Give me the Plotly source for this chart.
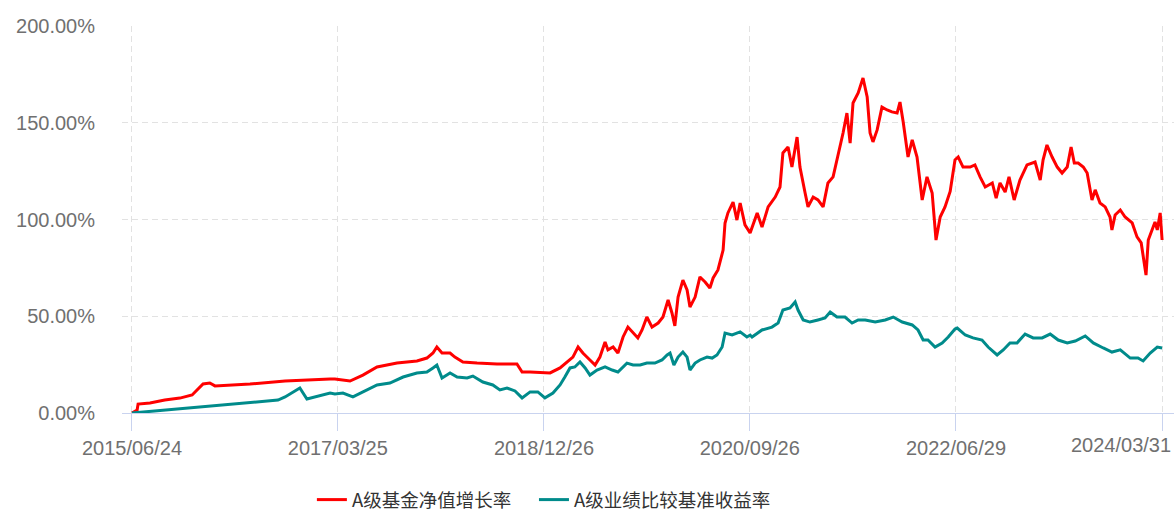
import plotly.graph_objects as go

# ---------------- data ----------------
nav_dates = [
    "2015-06-24", "2015-07-10", "2015-07-13", "2015-08-19", "2015-10-04", "2015-11-20",
    "2015-12-28", "2016-01-15", "2016-01-31", "2016-02-21", "2016-03-08", "2016-06-25",
    "2016-10-12", "2017-03-01", "2017-03-16", "2017-05-02", "2017-06-11", "2017-07-25",
    "2017-08-25", "2017-09-25", "2017-11-26", "2017-12-27", "2018-01-15", "2018-01-27",
    "2018-02-12", "2018-03-09", "2018-03-24", "2018-04-18", "2018-06-01", "2018-08-02",
    "2018-10-03", "2018-10-19", "2018-11-13", "2018-12-23", "2019-01-14", "2019-02-14",
    "2019-03-08", "2019-03-26", "2019-04-11", "2019-04-26", "2019-05-18", "2019-06-03",
    "2019-06-18", "2019-07-04", "2019-07-13", "2019-07-29", "2019-08-13", "2019-08-29",
    "2019-09-13", "2019-09-29", "2019-10-14", "2019-10-27", "2019-11-11", "2019-11-27",
    "2019-12-16", "2019-12-31", "2020-01-16", "2020-01-28", "2020-02-06", "2020-02-16",
    "2020-03-02", "2020-03-15", "2020-03-24", "2020-04-09", "2020-04-24", "2020-05-10",
    "2020-05-25", "2020-06-04", "2020-06-19", "2020-07-05", "2020-07-11", "2020-07-20",
    "2020-08-05", "2020-08-17", "2020-08-27", "2020-09-11", "2020-09-27", "2020-10-19",
    "2020-11-03", "2020-11-22", "2020-12-14", "2020-12-29", "2021-01-07", "2021-01-23",
    "2021-02-04", "2021-02-20", "2021-03-01", "2021-03-17", "2021-03-26", "2021-04-11",
    "2021-04-26", "2021-05-12", "2021-05-27", "2021-06-12", "2021-06-27", "2021-07-13",
    "2021-07-25", "2021-08-04", "2021-08-13", "2021-08-29", "2021-09-13", "2021-09-26",
    "2021-10-05", "2021-10-14", "2021-10-27", "2021-11-11", "2021-11-27", "2021-12-12",
    "2021-12-28", "2022-01-06", "2022-01-16", "2022-01-31", "2022-02-13", "2022-02-28",
    "2022-03-16", "2022-03-31", "2022-04-16", "2022-04-28", "2022-05-11", "2022-05-26",
    "2022-06-11", "2022-06-26", "2022-07-06", "2022-07-21", "2022-08-12", "2022-08-27",
    "2022-09-12", "2022-09-28", "2022-10-20", "2022-11-01", "2022-11-13", "2022-11-29",
    "2022-12-11", "2022-12-27", "2023-01-14", "2023-02-05", "2023-03-02", "2023-03-18",
    "2023-03-27", "2023-04-08", "2023-04-24", "2023-05-10", "2023-05-25", "2023-06-10",
    "2023-06-22", "2023-07-02", "2023-07-14", "2023-07-30", "2023-08-11", "2023-08-26",
    "2023-09-05", "2023-09-20", "2023-10-06", "2023-10-21", "2023-10-27", "2023-11-06",
    "2023-11-22", "2023-12-07", "2023-12-29", "2024-01-13", "2024-01-26", "2024-02-01",
    "2024-02-10", "2024-02-17", "2024-02-29", "2024-03-09", "2024-03-16", "2024-03-25",
    "2024-03-31",
]
nav_growth = [
    0.0, 1.5, 4.6, 5.2, 6.7, 7.7,
    9.3, 12.4, 15.0, 15.5, 14.0, 15.0,
    16.5, 17.6, 17.6, 16.5, 19.6, 23.8,
    24.8, 25.8, 26.9, 28.4, 31.0, 34.1,
    31.0, 31.0, 28.9, 26.4, 25.8, 25.3,
    25.3, 21.2, 21.2, 20.7, 20.7, 23.3,
    26.4, 28.9, 34.1, 31.0, 27.4, 24.8,
    28.9, 36.7, 32.6, 34.1, 31.0, 39.3,
    44.4, 41.3, 38.8, 42.9, 49.6, 44.4,
    46.5, 49.6, 58.4, 51.7, 45.0, 59.9,
    68.7, 63.6, 54.8, 59.9, 70.3, 67.7,
    64.6, 69.8, 73.9, 84.2, 98.2, 103.4,
    109.0, 99.7, 108.5, 97.2, 93.0, 103.4,
    96.1, 106.5, 111.6, 116.8, 134.4, 137.5,
    127.1, 142.6, 127.1, 113.7, 106.5, 111.6,
    110.1, 106.5, 118.9, 122.0, 132.3, 144.7,
    155.0, 139.5, 160.2, 165.4, 173.1, 163.3,
    144.7, 140.1, 146.3, 158.1, 156.6, 155.6,
    155.0, 160.7, 150.4, 132.3, 141.1, 132.3,
    110.1, 122.0, 113.7, 89.4, 101.3, 106.5,
    114.5, 130.8, 132.3, 127.1, 127.1, 128.2,
    122.0, 116.8, 118.9, 111.1, 118.9, 114.2,
    122.0, 110.1, 120.4, 128.2, 129.7, 120.4,
    130.8, 138.5, 132.3, 127.1, 124.0, 127.1,
    137.5, 129.2, 129.2, 127.1, 124.0, 110.1,
    115.3, 108.5, 106.5, 101.3, 94.6, 102.3,
    104.9, 101.3, 98.2, 91.0, 87.9, 80.6,
    71.3, 89.4, 94.6, 98.7, 94.6, 103.4,
    89.4,
]

bench_dates = [
    "2015-06-24", "2016-09-20", "2016-10-12", "2016-11-02", "2016-11-27", "2016-12-19",
    "2017-01-13", "2017-02-13", "2017-03-01", "2017-03-16", "2017-04-10", "2017-05-11",
    "2017-06-11", "2017-07-25", "2017-09-03", "2017-10-14", "2017-11-26", "2017-12-27",
    "2018-01-15", "2018-01-27", "2018-02-12", "2018-03-09", "2018-03-31", "2018-05-01",
    "2018-05-19", "2018-06-19", "2018-07-20", "2018-08-11", "2018-09-02", "2018-09-27",
    "2018-10-19", "2018-11-13", "2018-12-07", "2018-12-29", "2019-01-23", "2019-02-14",
    "2019-03-01", "2019-03-17", "2019-04-01", "2019-04-17", "2019-05-03", "2019-05-18",
    "2019-06-09", "2019-07-04", "2019-07-26", "2019-08-13", "2019-09-10", "2019-09-29",
    "2019-10-21", "2019-11-11", "2019-12-06", "2019-12-28", "2020-01-13", "2020-01-22",
    "2020-02-03", "2020-02-16", "2020-03-02", "2020-03-15", "2020-03-24", "2020-04-09",
    "2020-04-24", "2020-05-16", "2020-06-01", "2020-06-16", "2020-07-02", "2020-07-11",
    "2020-08-02", "2020-08-27", "2020-09-17", "2020-09-27", "2020-10-03", "2020-11-03",
    "2020-12-04", "2020-12-23", "2021-01-07", "2021-01-29", "2021-02-14", "2021-02-23",
    "2021-03-11", "2021-04-01", "2021-04-26", "2021-05-18", "2021-06-03", "2021-06-24",
    "2021-07-19", "2021-08-10", "2021-08-29", "2021-09-20", "2021-10-21", "2021-11-21",
    "2021-12-16", "2022-01-13", "2022-02-13", "2022-03-03", "2022-03-19", "2022-04-03",
    "2022-04-25", "2022-05-17", "2022-06-05", "2022-06-26", "2022-07-03", "2022-07-28",
    "2022-08-21", "2022-09-18", "2022-10-07", "2022-11-04", "2022-11-23", "2022-12-14",
    "2023-01-05", "2023-01-30", "2023-02-24", "2023-03-24", "2023-04-18", "2023-05-13",
    "2023-06-10", "2023-07-05", "2023-08-05", "2023-08-30", "2023-09-30", "2023-10-27",
    "2023-11-22", "2023-12-23", "2024-01-16", "2024-02-01", "2024-02-23", "2024-03-16",
    "2024-03-31",
]
bench_return = [
    0.0, 6.7, 8.3, 10.3, 12.9, 7.2,
    8.3, 9.3, 10.3, 9.8, 10.3, 8.3,
    10.9, 14.5, 15.5, 18.6, 20.7, 21.2,
    23.3, 24.8, 18.1, 20.7, 18.6, 18.1,
    19.1, 16.0, 14.5, 11.9, 12.9, 11.4,
    7.8, 10.9, 10.9, 7.8, 10.3, 14.5,
    18.6, 23.3, 23.8, 26.4, 23.3, 19.6,
    22.2, 23.8, 22.2, 21.2, 25.8, 24.8,
    24.8, 25.8, 25.8, 27.4, 30.0, 31.0,
    24.8, 28.9, 31.5, 28.9, 22.2, 25.8,
    27.4, 28.9, 28.4, 30.0, 34.1, 41.3,
    40.3, 41.9, 39.3, 40.3, 39.3, 42.9,
    44.4, 46.5, 53.2, 54.3, 57.4, 53.2,
    48.1, 47.0, 48.1, 49.1, 52.2, 49.6,
    49.6, 46.5, 48.1, 48.1, 47.0, 48.1,
    49.6, 47.0, 45.5, 42.9, 37.7, 37.7,
    34.1, 36.2, 39.3, 43.4, 43.9, 40.3,
    38.8, 37.7, 34.1, 30.0, 32.6, 36.2,
    36.2, 40.8, 38.8, 38.8, 40.8, 37.7,
    36.2, 37.2, 39.8, 36.2, 33.6, 31.5,
    32.6, 28.4, 28.4, 26.9, 31.0, 34.1,
    33.6,
]

x_tick_dates = ["2015-06-24", "2017-03-25", "2018-12-26", "2020-09-26", "2022-06-29", "2024-03-31"]
x_tick_labels = ["2015/06/24", "2017/03/25", "2018/12/26", "2020/09/26", "2022/06/29", "2024/03/31"]
y_tick_values = [0, 50, 100, 150, 200]

series_names = ["A级基金净值增长率", "A级业绩比较基准收益率"]

# ---------------- styling ----------------
RED = "#ff0000"
TEAL = "#008b8b"
GRID = "#e2e2e2"
AXIS = "#c9d3ef"
LABEL = "#707070"
TICK_FONT = dict(family="Liberation Sans, Arial, sans-serif", size=20, color=LABEL)
LEGEND_FONT = dict(family="Noto Sans CJK SC, sans-serif", size=18.5, color="#333333")

fig = go.Figure()
fig.add_trace(go.Scatter(x=nav_dates, y=nav_growth, mode="lines", name=series_names[0],
                         line=dict(color=RED, width=3), legend="legend"))
fig.add_trace(go.Scatter(x=bench_dates, y=bench_return, mode="lines", name=series_names[1],
                         line=dict(color=TEAL, width=3), legend="legend2"))

# last tick label is drawn pulled left so it stays inside the canvas
shown_labels = x_tick_labels[:-1] + [""]

fig.update_xaxes(
    type="date",
    range=["2015-05-24", "2024-05-07"],
    tickmode="array", tickvals=x_tick_dates, ticktext=shown_labels,
    showgrid=True, gridcolor=GRID, griddash="6px,4px", gridwidth=1,
    showline=True, linecolor=AXIS, linewidth=1,
    ticks="outside", ticklen=17, tickcolor=AXIS, tickwidth=1,
    tickfont=TICK_FONT, zeroline=False,
)
fig.update_yaxes(
    range=[0, 200], tickmode="array", tickvals=y_tick_values,
    ticktext=[f"{v:.2f}%" for v in y_tick_values],
    showgrid=True, gridcolor=GRID, griddash="6px,4px", gridwidth=1,
    showline=False, zeroline=False, ticks="", ticklabelstandoff=26,
    tickfont=TICK_FONT,
)

fig.add_annotation(
    x=x_tick_dates[-1], xref="x", y=0, yref="paper",
    text=x_tick_labels[-1], showarrow=False,
    xanchor="right", yanchor="top", xshift=11, yshift=-19,
    font=TICK_FONT,
)

legend_common = dict(
    orientation="h", xanchor="left", y=-0.225, yanchor="middle",
    font=LEGEND_FONT, bgcolor="rgba(0,0,0,0)",
    itemclick=False, itemdoubleclick=False,
)

fig.update_layout(
    width=1174, height=512,
    margin=dict(l=122, r=0, t=26, b=99, autoexpand=False),
    paper_bgcolor="white", plot_bgcolor="white",
    showlegend=True,
    legend=dict(x=0.1805, **legend_common),
    legend2=dict(x=0.3916, **legend_common),
    hovermode=False,
)

fig.write_html("out.html", config={"displayModeBar": False},
               post_script="document.body.style.margin='0';")
